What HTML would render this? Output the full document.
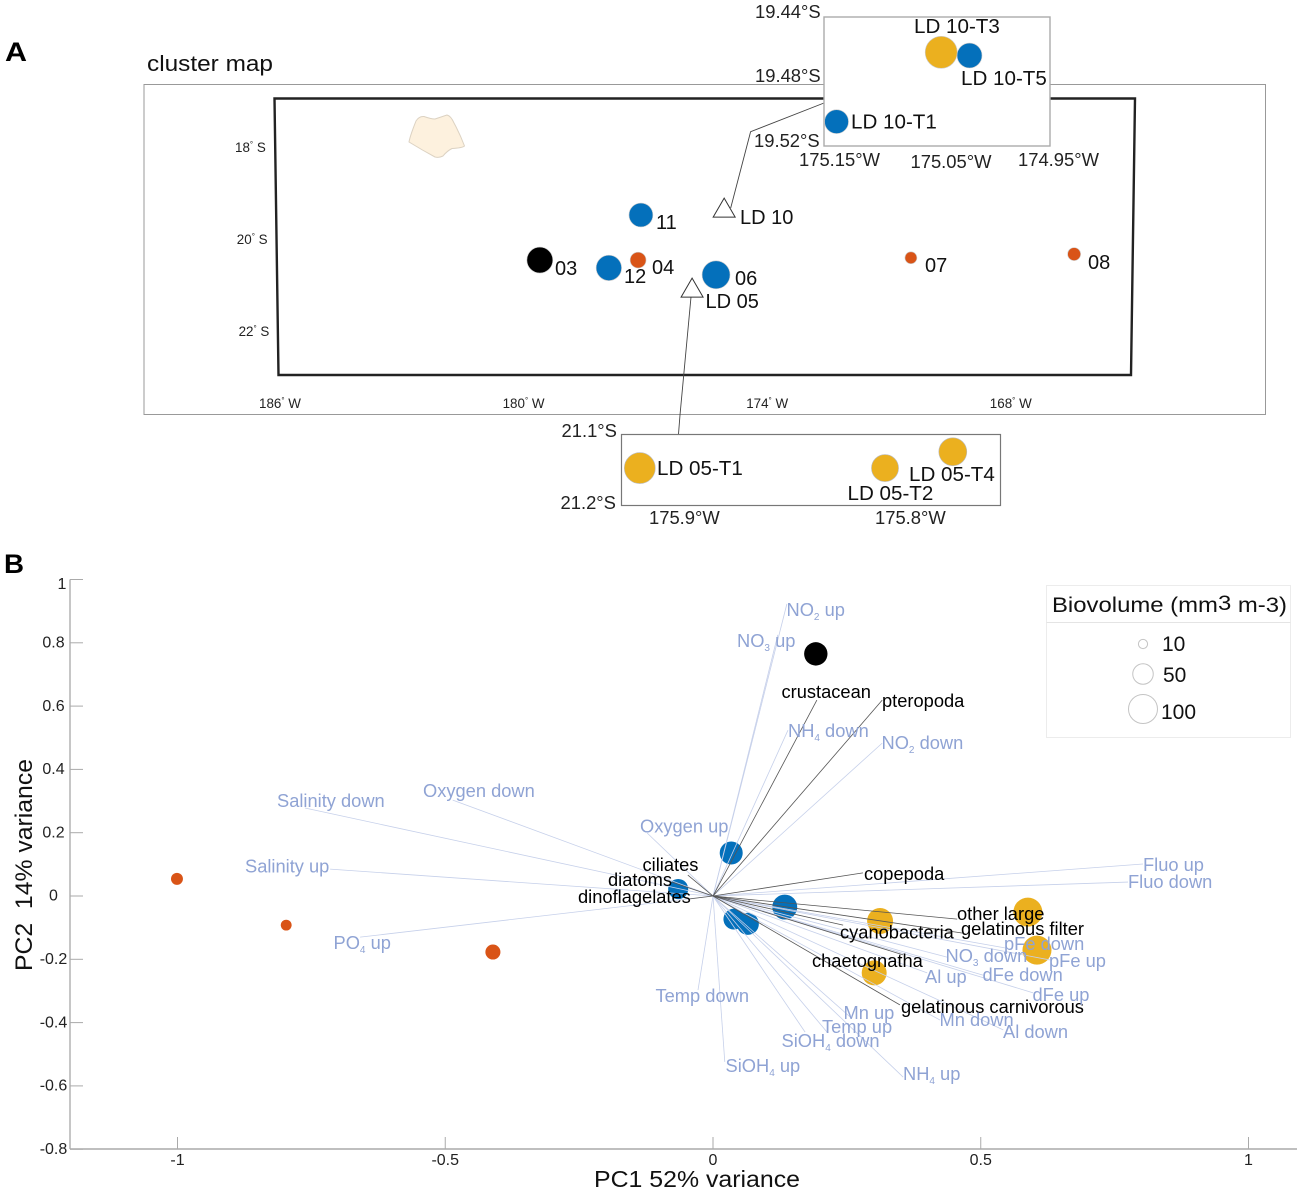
<!DOCTYPE html>
<html lang="en">
<head>
<meta charset="utf-8">
<title>Cluster map and PCA biplot</title>
<style>
html,body{margin:0;padding:0;background:#fff;}
svg{display:block;font-family:"Liberation Sans",Arial,sans-serif;}
.env{font-size:18.3px;fill:#8fa3d4;}
.taxa{font-size:18.3px;fill:#000;}
.st{font-size:20px;fill:#111;}
.ld{font-size:20.6px;fill:#111;}
.ins{font-size:18.4px;fill:#222;}
</style>
</head>
<body>
<svg id="fig" xmlns="http://www.w3.org/2000/svg" width="1299" height="1191" viewBox="0 0 1299 1191">
<rect width="1299" height="1191" fill="#fff"/>

<text x="5" y="61" font-size="27" font-weight="bold" textLength="22" lengthAdjust="spacingAndGlyphs">A</text>
<text x="4" y="573" font-size="27" font-weight="bold" textLength="20" lengthAdjust="spacingAndGlyphs">B</text>
<text x="147" y="71" font-size="22" fill="#111" textLength="126" lengthAdjust="spacingAndGlyphs">cluster map</text>

<rect x="144" y="84.5" width="1121.5" height="330" fill="none" stroke="#999" stroke-width="1"/>
<polygon points="274.5,98.5 1135,98.5 1131,375 278.5,375" fill="none" stroke="#222" stroke-width="2.4"/>
<path d="M416,121 Q419,116 424,116.5 Q431,119 435,119 Q441,117 447,115 Q451,116 454,123 Q460,134 464.5,146 Q462,148 452,148.5 Q447,151 443,156 Q439,158 435,157 Q422,150 409,142 Q410,136 416,121 Z" fill="#fdf1de" stroke="#dcd2c2" stroke-width="1" stroke-linejoin="round"/>
<polyline points="730.7,208 750.6,131.7 824,103" fill="none" stroke="#444" stroke-width="0.9"/>
<polyline points="691,297 680,415 678.5,434" fill="none" stroke="#444" stroke-width="0.9"/>

<g id="mapTicks"></g>
<g id="mapMarks"></g>

<rect x="824" y="17" width="226" height="129" fill="#fff" stroke="#aaa" stroke-width="1.4"/>
<rect x="621.5" y="434.5" width="379" height="71" fill="#fff" stroke="#777" stroke-width="1.2"/>
<g id="insetMarks"></g>

<g>
<text class="st" x="555" y="275">03</text>
<text class="st" x="624" y="283">12</text>
<text class="st" x="652" y="274">04</text>
<text class="st" x="656" y="229">11</text>
<text class="st" x="735" y="285">06</text>
<text class="st" x="925" y="272">07</text>
<text class="st" x="1088" y="269">08</text>
<text class="st" x="740" y="224">LD 10</text>
<text class="st" x="705.5" y="308">LD 05</text>
<text class="ld" x="914" y="33">LD 10-T3</text>
<text class="ld" x="961" y="85">LD 10-T5</text>
<text class="ld" x="851" y="128.5">LD 10-T1</text>
<text class="ld" x="657" y="475">LD 05-T1</text>
<text class="ld" x="909" y="481">LD 05-T4</text>
<text class="ld" x="847.5" y="500">LD 05-T2</text>
<text class="ins" x="755" y="18">19.44°S</text>
<text class="ins" x="755" y="82">19.48°S</text>
<text class="ins" x="754" y="147">19.52°S</text>
<text class="ins" x="799" y="166">175.15°W</text>
<text class="ins" x="910.5" y="168">175.05°W</text>
<text class="ins" x="1018" y="166">174.95°W</text>
<text class="ins" x="561.5" y="437">21.1°S</text>
<text class="ins" x="560.5" y="509">21.2°S</text>
<text class="ins" x="649" y="524">175.9°W</text>
<text class="ins" x="875" y="524">175.8°W</text>
</g>

<g id="biplotAxes"></g>
<g id="biplotPoints"></g>
<g id="biplotVectors"></g>

<g>
<text class="taxa" x="781.5" y="698">crustacean</text>
<text class="taxa" x="882" y="707">pteropoda</text>
<text class="taxa" x="642.5" y="871">ciliates</text>
<text class="taxa" x="608" y="886">diatoms</text>
<text class="taxa" x="578" y="903">dinoflagelates</text>
<text class="taxa" x="864" y="880">copepoda</text>
<text class="taxa" x="957" y="920">other large</text>
<text class="taxa" x="961" y="935">gelatinous filter</text>
<text class="taxa" x="840" y="938.5">cyanobacteria</text>
<text class="taxa" x="812" y="967">chaetognatha</text>
<text class="taxa" x="901" y="1013">gelatinous carnivorous</text>
</g>
<g>
<text class="env" x="786.5" y="616">NO<tspan font-size="10" dy="4">2</tspan><tspan dy="-4"> up</tspan></text>
<text class="env" x="737" y="647">NO<tspan font-size="10" dy="4">3</tspan><tspan dy="-4"> up</tspan></text>
<text class="env" x="788" y="737">NH<tspan font-size="10" dy="4">4</tspan><tspan dy="-4"> down</tspan></text>
<text class="env" x="881.5" y="749">NO<tspan font-size="10" dy="4">2</tspan><tspan dy="-4"> down</tspan></text>
<text class="env" x="640" y="832.5">Oxygen up</text>
<text class="env" x="423" y="797">Oxygen down</text>
<text class="env" x="277" y="807">Salinity down</text>
<text class="env" x="245" y="872.5">Salinity up</text>
<text class="env" x="333.5" y="949">PO<tspan font-size="10" dy="4">4</tspan><tspan dy="-4"> up</tspan></text>
<text class="env" x="655.5" y="1002">Temp down</text>
<text class="env" x="725.5" y="1072">SiOH<tspan font-size="10" dy="4">4</tspan><tspan dy="-4"> up</tspan></text>
<text class="env" x="781.5" y="1047">SiOH<tspan font-size="10" dy="4">4</tspan><tspan dy="-4"> down</tspan></text>
<text class="env" x="822" y="1033">Temp up</text>
<text class="env" x="843.5" y="1019">Mn up</text>
<text class="env" x="903" y="1080">NH<tspan font-size="10" dy="4">4</tspan><tspan dy="-4"> up</tspan></text>
<text class="env" x="1003" y="1038">Al down</text>
<text class="env" x="939.5" y="1026">Mn down</text>
<text class="env" x="1032.5" y="1001">dFe up</text>
<text class="env" x="982.5" y="981">dFe down</text>
<text class="env" x="925" y="983">Al up</text>
<text class="env" x="945.5" y="962">NO<tspan font-size="10" dy="4">3</tspan><tspan dy="-4"> down</tspan></text>
<text class="env" x="1049" y="967">pFe up</text>
<text class="env" x="1004" y="950">pFe down</text>
<text class="env" x="1143" y="871">Fluo up</text>
<text class="env" x="1128" y="888">Fluo down</text>
</g>

<text x="594" y="1187" font-size="23.5" fill="#111" textLength="206" lengthAdjust="spacingAndGlyphs">PC1 52% variance</text>
<text transform="translate(32,971) rotate(-90)" x="0" y="0" font-size="24" fill="#111" textLength="212" lengthAdjust="spacingAndGlyphs">PC2&#160;&#160;14% variance</text>

<g>
<rect x="1046.5" y="585.5" width="244" height="152" fill="#fff" stroke="#ececec" stroke-width="1"/>
<line x1="1046.5" y1="622.5" x2="1290.5" y2="622.5" stroke="#e4e4e4" stroke-width="1"/>
<text x="1052" y="612" font-size="21" fill="#111" textLength="235" lengthAdjust="spacingAndGlyphs">Biovolume (mm<tspan dy="-2">3</tspan><tspan dy="2"> m-3)</tspan></text>
<circle id="legendCircle10" cx="1143" cy="644" fill="#fff" stroke="#c4c4c4" stroke-width="1"/>
<circle id="legendCircle50" cx="1143" cy="674" fill="#fff" stroke="#c4c4c4" stroke-width="1"/>
<circle id="legendCircle100" cx="1143" cy="709" fill="#fff" stroke="#c4c4c4" stroke-width="1"/>
<text x="1162" y="651" font-size="21" fill="#111">10</text>
<text x="1163" y="682" font-size="21" fill="#111">50</text>
<text x="1161" y="719" font-size="21" fill="#111">100</text>
</g>
</svg>

<script>
// ---- Biplot data ----
const pc1Ticks = [-1, -0.5, 0, 0.5, 1];
const pc2Ticks = [1, 0.8, 0.6, 0.4, 0.2, 0, -0.2, -0.4, -0.6, -0.8];

const envNames = ['no2-up','no3-up','nh4-down','no2-down','oxygen-up','oxygen-down','salinity-down','salinity-up','po4-up','temp-down','sioh4-up','sioh4-down','temp-up','mn-up','nh4-up','al-down','mn-down','dfe-up','dfe-down','al-up','no3-down','pfe-up','pfe-down','fluo-up','fluo-down'];
const envPC1 = [0.138,0.121,0.140,0.316,-0.123,-0.486,-0.762,-0.715,-0.659,-0.028,0.022,0.172,0.213,0.256,0.355,0.542,0.424,0.598,0.504,0.400,0.437,0.629,0.545,0.803,0.775];
const envPC2 = [0.923,0.825,0.524,0.483,0.199,0.303,0.278,0.085,-0.130,-0.297,-0.524,-0.430,-0.430,-0.382,-0.572,-0.423,-0.392,-0.306,-0.250,-0.243,-0.193,-0.202,-0.164,0.101,0.044];

const taxaNames = ['crustacean','pteropoda','ciliates','diatoms','dinoflagelates','copepoda','other-large','gelatinous-filter','cyanobacteria','chaetognatha','gelatinous-carnivorous'];
const taxaPC1 = [0.194,0.316,-0.047,-0.077,-0.043,0.280,0.456,0.465,0.243,0.355,0.349];
const taxaPC2 = [0.619,0.619,0.066,0.044,-0.009,0.073,-0.073,-0.117,-0.092,-0.186,-0.344];

const sampleCluster = ['black','blue','blue','blue','blue','blue','orange','orange','orange','orange','red','red','red'];
const samplePC1 = [0.192,0.034,-0.065,0.134,0.039,0.065,0.312,0.588,0.605,0.301,-1.001,-0.797,-0.411];
const samplePC2 = [0.765,0.136,0.022,-0.035,-0.073,-0.088,-0.079,-0.051,-0.171,-0.243,0.054,-0.092,-0.177];
const sampleBiovol = [65,63,48,74,52,58,80,100,100,74,17,14,27];

// ---- Map data ----
const mapLonTicks = [186, 180, 174, 168];
const mapLatTicks = [18, 20, 22];

const stationNames = ['03','12','04','11','06','07','08'];
const stationLon = [179.6,177.9,177.18,177.11,175.26,170.46,166.44];
const stationLat = [20.48,20.65,20.48,19.5,20.8,20.43,20.35];
const stationCluster = ['black','blue','red','blue','blue','red','red'];
const stationBiovol = [80,77,30,68,93,17,20];

const siteNames = ['ld10','ld05'];
const siteLon = [175.06,175.85];
const siteLat = [19.35,21.09];

const ld10Names = ['t3','t5','t1'];
const ld10Lon = [175.059,175.033,175.155];
const ld10Lat = [19.465,19.467,19.508];
const ld10Cluster = ['orange','blue','blue'];
const ld10Biovol = [122,74,68];

const ld05Names = ['t1','t2','t4'];
const ld05Lon = [175.92,175.8115,175.7815];
const ld05Lat = [21.148,21.148,21.125];
const ld05Cluster = ['orange','orange','orange'];
const ld05Biovol = [114,87,93];

const legendSizes = [10, 50, 100];

// ---- Scales ----
const SVGNS = 'http://www.w3.org/2000/svg';
const pcX = v => 713 + v * 535.5;
const pcY = v => 896 - v * 316.5;
const mapX = lon => 280 + (186 - lon) * 40.6;
const mapY = lat => 146 + (lat - 18) * 46;
const ld10X = lon => 951 + (175.05 - lon) * 1090;
const ld10Y = lat => 12 + (lat - 19.44) * 1612;
const ld05X = lon => 685 + (175.9 - lon) * 2260;
const ld05Y = lat => 434 + (lat - 21.1) * 710;
const radius = v => 1.45 * Math.sqrt(v);
const clusterColor = c => ({black:'#000000', blue:'#0470bb', orange:'#ebb01f', red:'#d95417'})[c];

function make(tag, attrs, parent) {
  const el = document.createElementNS(SVGNS, tag);
  for (const k in attrs) el.setAttribute(k, attrs[k]);
  parent.appendChild(el);
  return el;
}
function dot(parent, x, y, v, cluster, edge) {
  return make('circle', {cx:x, cy:y, r:radius(v), fill:clusterColor(cluster), stroke:edge, 'stroke-width':0.6}, parent);
}

// ---- Biplot axes ----
const axes = document.getElementById('biplotAxes');
const yAxis = make('line', {x1:70, y1:pcY(1), x2:70, y2:1149, stroke:'#c6c6c6', 'stroke-width':2}, axes);


const xAxis = make('line', {x1:70, y1:1149, x2:1297, y2:1149, stroke:'#aaaaaa', 'stroke-width':1.5}, axes);


pc2Ticks.forEach(t => {
  const tick = make('line', {x1:70, y1:pcY(t), x2:83, y2:pcY(t), stroke:'#aaaaaa', 'stroke-width':1}, axes);
  
  
  const isTop = t === 1;
  const lab = make('text', {x:isTop ? 62 : 53.5, y:pcY(t) + (isTop ? 9.5 : 4.7), 'font-size':16, fill:'#222', 'text-anchor':'middle'}, axes);
  lab.textContent = String(t);
  
  
});
pc1Ticks.forEach(t => {
  const tick = make('line', {x1:pcX(t), y1:1137, x2:pcX(t), y2:1149, stroke:'#aaaaaa', 'stroke-width':1}, axes);
  
  
  const lab = make('text', {x:pcX(t), y:1165, 'font-size':16, fill:'#222', 'text-anchor':'middle'}, axes);
  lab.textContent = String(t);
  
  
});

// ---- Biplot marks ----
const ptsG = document.getElementById('biplotPoints');
samplePC1.forEach((v, i) => {
  const c = dot(ptsG, pcX(v), pcY(samplePC2[i]), sampleBiovol[i], sampleCluster[i], 'none');
  
  
});
const vecG = document.getElementById('biplotVectors');
envPC1.forEach((v, i) => {
  const l = make('line', {x1:pcX(0), y1:pcY(0), x2:pcX(v), y2:pcY(envPC2[i]), stroke:'#c6d0ea', 'stroke-width':0.8}, vecG);
  
  
});
taxaPC1.forEach((v, i) => {
  const l = make('line', {x1:pcX(0), y1:pcY(0), x2:pcX(v), y2:pcY(taxaPC2[i]), stroke:'#555555', 'stroke-width':0.8}, vecG);
  
  
});

// ---- Map ----
const mapTicksG = document.getElementById('mapTicks');
function degLabel(parent, x, y, deg, hemi) {
  const t = make('text', {x:x, y:y, 'font-size':13.4, fill:'#222'}, parent);
  t.appendChild(document.createTextNode(String(deg)));
  const s = make('tspan', {'font-size':8, dy:-5}, t);
  s.textContent = '°';
  const h = make('tspan', {dy:5}, t);
  h.textContent = '\u00a0' + hemi;
  return t;
}
mapLonTicks.forEach(lon => {
  const t = degLabel(mapTicksG, mapX(lon) - 21, 408, lon, 'W');
  
  
});
mapLatTicks.forEach(lat => {
  const t = degLabel(mapTicksG, 235 + (lat - 18) * 0.9, mapY(lat) + 6, lat, 'S');
  
  
});

const mapG = document.getElementById('mapMarks');
stationLon.forEach((lon, i) => {
  const c = dot(mapG, mapX(lon), mapY(stationLat[i]), stationBiovol[i], stationCluster[i], '#cccccc');
  
  
});
siteLon.forEach((lon, i) => {
  const x = mapX(lon), y = mapY(siteLat[i]);
  const p = make('polygon', {points:(x)+','+(y-10)+' '+(x+11)+','+(y+9)+' '+(x-11)+','+(y+9), fill:'#fff', stroke:'#333', 'stroke-width':1}, mapG);
  
  
});

const insetG = document.getElementById('insetMarks');
ld10Lon.forEach((lon, i) => {
  const c = dot(insetG, ld10X(lon), ld10Y(ld10Lat[i]), ld10Biovol[i], ld10Cluster[i], '#cccccc');
  
  
});
ld05Lon.forEach((lon, i) => {
  const c = dot(insetG, ld05X(lon), ld05Y(ld05Lat[i]), ld05Biovol[i], ld05Cluster[i], '#bbbbbb');
  
  
});

// ---- Legend: circle radii come from the size values ----
legendSizes.forEach(v => {
  document.getElementById('legendCircle' + v).setAttribute('r', radius(v));
});
</script>
</body>
</html>
